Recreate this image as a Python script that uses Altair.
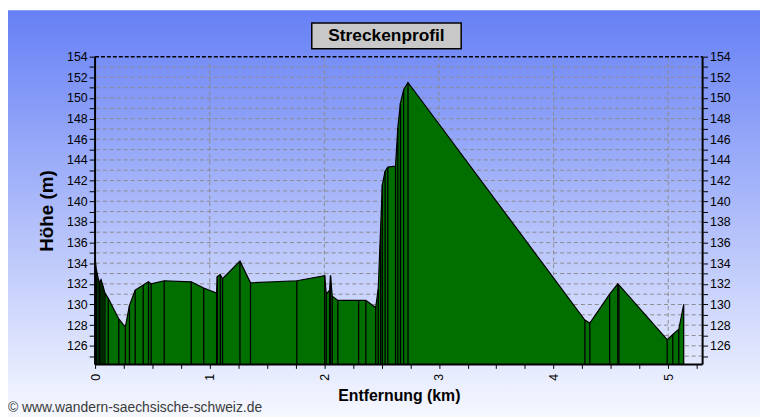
import altair as alt
import pandas as pd

# ---- data ----
km = [0.0, 0.011, 0.026, 0.04, 0.052, 0.069, 0.086, 0.115, 0.207, 0.264, 0.30, 0.35,
      0.42, 0.466, 0.489, 0.603, 0.839, 0.948, 1.060, 1.066, 1.092, 1.112, 1.264, 1.356,
      1.76, 2.003, 2.017, 2.046, 2.054, 2.069, 2.118, 2.299, 2.362, 2.448, 2.47, 2.491,
      2.506, 2.53, 2.554, 2.621, 2.641, 2.664, 2.692, 2.730, 4.273, 4.316, 4.489, 4.56,
      4.57, 4.991, 5.04, 5.092, 5.135]
hoehe = [134.5, 133.4, 132.6, 132.1, 132.4, 131.8, 131.1, 130.6, 128.6, 127.8, 129.9, 131.4,
         131.9, 132.2, 132.0, 132.3, 132.2, 131.6, 131.1, 132.7, 132.9, 132.5, 134.2, 132.1,
         132.3, 132.8, 131.0, 131.4, 132.8, 130.8, 130.4, 130.4, 130.4, 129.7, 131.5, 137.4,
         141.6, 142.9, 143.3, 143.4, 147.1, 149.5, 150.8, 151.5, 128.5, 128.2, 131.0, 132.0,
         131.9, 126.6, 127.1, 127.6, 130.0]

y_ticks = list(range(125, 155))
x_ticks = [i * 0.25 for i in range(0, 22)]
y_grid = list(range(125, 154))
x_grid = [1, 2, 3, 4, 5]

title_text = "Streckenprofil"
x_title = "Entfernung (km)"
y_title = "Höhe (m)"
copyright_text = "© www.wandern-saechsische-schweiz.de"

W, H = 614, 311
PL, PT, PR, PB = 88, 47, 58, 53

FONT = "Liberation Sans"
GREEN = "#006f00"

df = pd.DataFrame({"km": km, "m": hoehe, "base": [124.2] * len(km)})
one = pd.DataFrame({"d": [0]})

y_scale = alt.Scale(domain=[124.2, 154], nice=False, zero=False)
x_scale = alt.Scale(domain=[0, 5.3], nice=False, zero=False)

left_axis = alt.Axis(
    orient="left", values=y_ticks,
    labelExpr="datum.value % 2 == 0 ? '' + datum.value : ''",
    title=y_title, titleFontSize=19, titleFontWeight="bold", titleFont=FONT,
    titlePadding=10, titleColor="black",
    labelFont=FONT, labelFontSize=12.5, labelColor="black", labelPadding=2,
    tickSize=6, tickColor="black", domain=False, grid=False, zindex=1,
)
right_axis = alt.Axis(
    orient="right", values=y_ticks,
    labelExpr="datum.value % 2 == 0 ? '' + datum.value : ''",
    title=None,
    labelFont=FONT, labelFontSize=12.5, labelColor="black", labelPadding=2,
    tickSize=5, tickColor="black", domain=False, grid=False, zindex=1,
)
bottom_axis = alt.Axis(
    orient="bottom", values=x_ticks,
    labelExpr="datum.value % 1 == 0 ? '' + datum.value : ''",
    labelAngle=270, labelFont=FONT, labelFontSize=12.5, labelColor="black",
    labelPadding=5, tickSize=4, tickColor="black", domain=False, grid=False,
    title=x_title, titleFontSize=16, titleFontWeight="bold", titleFont=FONT,
    titlePadding=8, titleColor="black", zindex=1,
)

gradient = alt.Gradient(
    gradient="linear", x1=0, y1=0, x2=0, y2=1,
    stops=[alt.GradientStop(color="#6680f5", offset=0),
           alt.GradientStop(color="#f6f8ff", offset=1)],
)

bg = alt.Chart(one).mark_rect(fill=gradient).encode(
    x=alt.value(-PL), x2=alt.value(W + PR), y=alt.value(-PT), y2=alt.value(H + PB)
)

hgrid = alt.Chart(pd.DataFrame({"g": y_grid})).mark_rule(
    color="#8c8c8c", strokeDash=[4, 3], strokeWidth=1
).encode(y=alt.Y("g:Q", scale=y_scale, axis=None))

vgrid = alt.Chart(pd.DataFrame({"g": x_grid})).mark_rule(
    color="#8c8c8c", strokeDash=[4, 3], strokeWidth=1
).encode(x=alt.X("g:Q", scale=x_scale, axis=None))

area = alt.Chart(df).mark_area(
    fill=GREEN, fillOpacity=1, interpolate="linear"
).encode(
    x=alt.X("km:Q", scale=x_scale, axis=bottom_axis),
    y=alt.Y("m:Q", scale=y_scale, axis=left_axis),
    y2="base:Q",
)

outline = alt.Chart(df).mark_line(color="black", strokeWidth=1.2).encode(
    x=alt.X("km:Q", scale=x_scale, axis=None),
    y=alt.Y("m:Q", scale=y_scale, axis=None),
)

rules = alt.Chart(df).mark_rule(color="black", strokeWidth=1.3).encode(
    x=alt.X("km:Q", scale=x_scale, axis=None),
    y=alt.Y("m:Q", scale=y_scale, axis=right_axis),
    y2="base:Q",
)

border_solid = alt.Chart(pd.DataFrame({
    "x1": [0, W, 0], "x2": [0, W, W], "y1": [0, 0, H], "y2": [H, H, H]
})).mark_rule(color="black", strokeWidth=2).encode(
    x=alt.X("x1:Q", scale=None, axis=None), x2="x2:Q",
    y=alt.Y("y1:Q", scale=None, axis=None), y2="y2:Q",
)
border_top = alt.Chart(one).mark_rule(color="black", strokeWidth=1.5, strokeDash=[4, 2]).encode(
    x=alt.value(0), x2=alt.value(W), y=alt.value(0)
)

title_box = alt.Chart(one).mark_rect(fill="#c8c8c8", stroke="black", strokeWidth=1.5).encode(
    x=alt.value(219), x2=alt.value(370), y=alt.value(-34), y2=alt.value(-8)
)
title = alt.Chart(pd.DataFrame({"t": [title_text]})).mark_text(
    font=FONT, fontSize=17.5, fontWeight="bold", color="black",
    align="center", baseline="middle"
).encode(text="t:N", x=alt.value(294.5), y=alt.value(-20.5))

copyright = alt.Chart(pd.DataFrame({"t": [copyright_text]})).mark_text(
    font=FONT, fontSize=14, color="#3a3a3a", align="left", baseline="middle"
).encode(text="t:N", x=alt.value(-PL), y=alt.value(355))

chart = alt.layer(
    bg, hgrid, vgrid, area, outline, rules, border_solid, border_top, title_box, title, copyright
).resolve_axis(x="independent", y="independent").properties(
    width=W, height=H,
    autosize=alt.AutoSizeParams(type="none"),
    padding={"left": PL, "top": PT, "right": PR, "bottom": PB},
    background="white",
).configure_view(stroke=None)

chart.save("out.html", embed_options={"renderer": "svg", "actions": False})
